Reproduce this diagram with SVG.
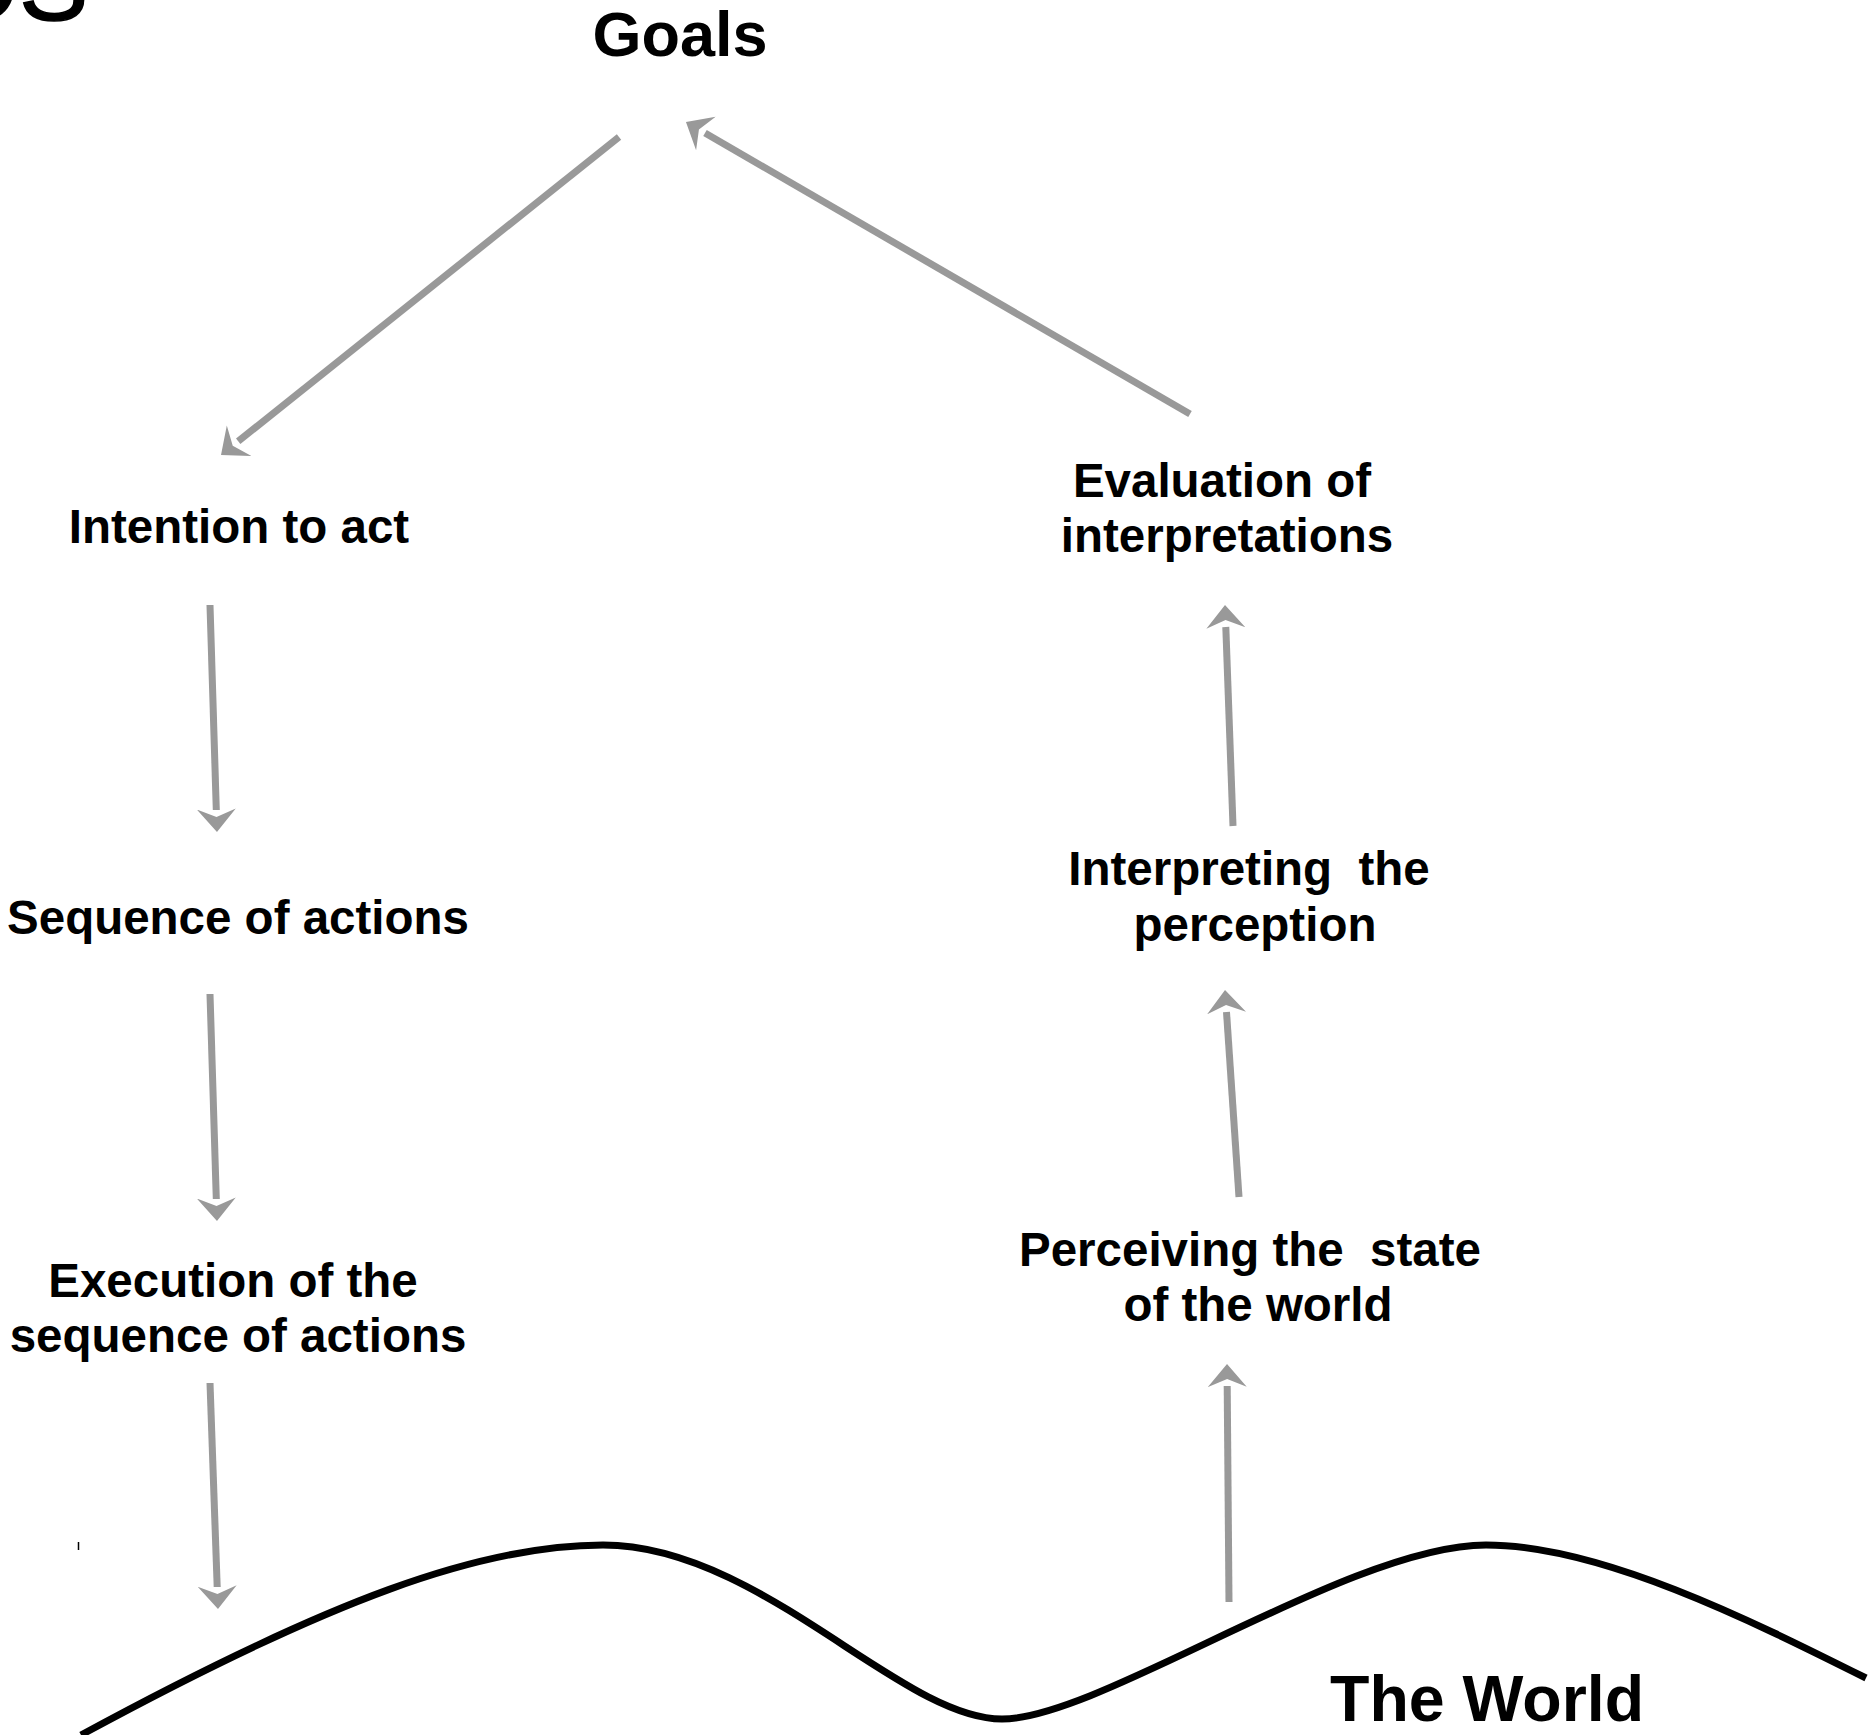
<svg xmlns="http://www.w3.org/2000/svg" width="1871" height="1735" viewBox="0 0 1871 1735">
<style>
.lbl{font-family:"Liberation Sans",Arial,sans-serif;font-weight:bold;font-size:47.5px;fill:#000;text-anchor:middle;white-space:pre}
.big{font-family:"Liberation Sans",Arial,sans-serif;font-weight:bold;font-size:63px;fill:#000}
.conn{stroke:#999999;stroke-width:7;fill:none;marker-end:url(#ah)}
</style>
<defs>
<marker id="ah" markerUnits="userSpaceOnUse" viewBox="0 0 23 40" markerWidth="23" markerHeight="40" refX="1" refY="20" orient="auto">
<path d="M23,20 L0,0.5 L8,20 L0,39.5 Z" fill="#999999"/>
</marker>
</defs>
<rect width="1871" height="1735" fill="#fff"/>
<text x="-62" y="20" font-family="Liberation Sans,Arial,sans-serif" font-size="104" stroke="#000" stroke-width="1.5" fill="#000">OS</text>
<g id="goals"><text class="big" x="680" y="56" text-anchor="middle">Goals</text></g>
<g id="intention"><text class="lbl" x="239" y="543">Intention to act</text></g>
<g id="sequence"><text class="lbl" x="238" y="934">Sequence of actions</text></g>
<g id="execution"><text class="lbl" x="233" y="1297">Execution of the</text><text class="lbl" x="238" y="1352">sequence of actions</text></g>
<g id="evaluation"><text class="lbl" x="1222" y="497">Evaluation of</text><text class="lbl" x="1227" y="552">interpretations</text></g>
<g id="interpreting"><text class="lbl" x="1249" y="885">Interpreting  the</text><text class="lbl" x="1255" y="941">perception</text></g>
<g id="perceiving"><text class="lbl" x="1250" y="1266">Perceiving the  state</text><text class="lbl" x="1258" y="1321">of the world</text></g>
<g id="world">
<path d="M81,1735 C330,1600 480,1545 603,1545 C760,1545 900,1719 1002,1719 C1100,1719 1350,1545 1486,1545 C1600,1545 1750,1620 1866,1678" stroke="#000" stroke-width="7" fill="none"/>
<text class="big" x="1330" y="1721" style="font-size:64.5px">The World</text>
<line x1="78.5" y1="1542" x2="78.5" y2="1550" stroke="#000" stroke-width="1.5"/>
</g>
<g id="connectors">
<line class="conn" x1="619" y1="137" x2="238.2" y2="441.3"/>
<line class="conn" x1="210" y1="605" x2="216.3" y2="810"/>
<line class="conn" x1="210" y1="994" x2="216.3" y2="1199"/>
<line class="conn" x1="210" y1="1383" x2="217.2" y2="1587"/>
<line class="conn" x1="1229" y1="1602" x2="1227.2" y2="1386"/>
<line class="conn" x1="1239" y1="1197" x2="1226.5" y2="1012"/>
<line class="conn" x1="1233" y1="826" x2="1225.8" y2="627"/>
<line class="conn" x1="1190" y1="414" x2="705" y2="133"/>
</g>
</svg>
